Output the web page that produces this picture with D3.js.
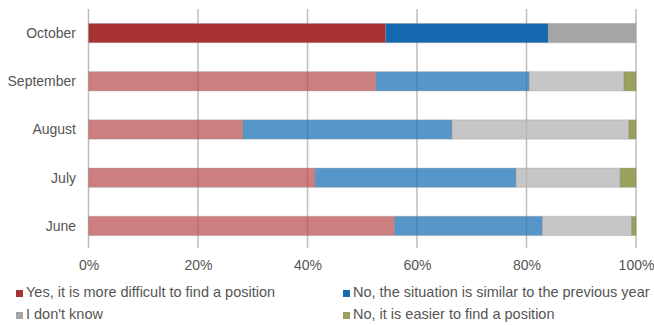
<!DOCTYPE html>
<html>
<head>
<meta charset="utf-8">
<script src="https://cdn.jsdelivr.net/npm/d3@7"></script>
<style>
  html, body { margin: 0; padding: 0; background: #fff; }
  svg { display: block; font-family: "Liberation Sans", Arial, sans-serif; }
</style>
</head>
<body>
<svg id="chart" width="654" height="325"></svg>
<script>
// Survey months, top to bottom
const months = ["October", "September", "August", "July", "June"];

// Answer shares (%) per month, same order as months
const moreDifficult = [54.3, 52.5, 28.2, 41.4, 55.9];
const similar       = [29.7, 28.0, 38.2, 36.7, 27.0];
const dontKnow      = [16.0, 17.3, 32.3, 19.0, 16.3];
const easier        = [0.0, 2.2, 1.3, 2.9, 0.8];

const seriesNames = [
  "Yes, it is more difficult to find a position",
  "No, the situation is similar to the previous year",
  "I don't know",
  "No, it is easier to find a position"
];

const tickValues = [0, 20, 40, 60, 80, 100];

// Latest month is drawn in full colour, earlier months are faded
const strongColors = ["#a93232", "#1469b0", "#a6a6a6", "#9ba05b"];
const fadedColors  = ["rgba(188,84,84,0.75)", "rgba(31,115,182,0.75)",
                      "rgba(179,179,179,0.75)", "rgba(122,128,36,0.75)"];

const seriesValues = [moreDifficult, similar, dontKnow, easier];
const rows = months.map((m, i) => {
  const r = { month: m };
  seriesNames.forEach((s, k) => r[s] = seriesValues[k][i]);
  return r;
});
const stacked = d3.stack().keys(seriesNames)(rows);

const svg = d3.select("#chart");
const x = d3.scaleLinear().domain([0, 100]).range([88.5, 636]);
const y = d3.scaleBand().domain(months).range([9, 250])
  .paddingInner(0.6).paddingOuter(0.3);

// Vertical gridlines
svg.append("g").selectAll("line").data(tickValues).join("line")
  .attr("x1", d => x(d)).attr("x2", d => x(d))
  .attr("y1", 9).attr("y2", 248)
  .attr("stroke", "#bdbdbd").attr("stroke-width", 1.5);

// Stacked bars
svg.append("g").selectAll("g").data(stacked).join("g")
  .each(function (layer, k) {
    d3.select(this).selectAll("rect").data(layer).join("rect")
      .attr("x", d => x(d[0]))
      .attr("width", d => Math.max(0, x(d[1]) - x(d[0])))
      .attr("y", d => y(d.data.month))
      .attr("height", y.bandwidth())
      .attr("fill", d => d.data.month === months[0] ? strongColors[k] : fadedColors[k])
      .attr("stroke", d => (d[1] - d[0]) > 0 ? "rgba(150,150,150,0.35)" : "none")
      .attr("stroke-width", 1);
  });

// Month labels
svg.append("g").selectAll("text").data(months).join("text")
  .attr("x", 76)
  .attr("y", d => y(d) + y.bandwidth() / 2)
  .attr("dy", "0.35em")
  .attr("text-anchor", "end")
  .attr("font-size", 14)
  .attr("fill", "#555")
  .text(d => d);

// Percentage axis
const axis = d3.axisBottom(x).tickValues(tickValues)
  .tickFormat(d => d + "%").tickSize(0).tickPadding(0);
const ax = svg.append("g").attr("transform", "translate(0,260)").call(axis);
ax.select(".domain").remove();
ax.selectAll("text").attr("font-size", 14).attr("fill", "#555")
  .attr("font-family", "Liberation Sans, Arial, sans-serif");

// Legend
const legendPos = [[16, 297], [343, 297], [16, 319], [343, 319]];
const legend = svg.append("g").selectAll("g").data(seriesNames).join("g")
  .attr("transform", (d, i) => `translate(${legendPos[i][0]},${legendPos[i][1]})`);
legend.append("rect")
  .attr("x", 0).attr("y", -7).attr("width", 7).attr("height", 7)
  .attr("fill", (d, i) => strongColors[i]);
legend.append("text")
  .attr("x", 10).attr("y", 0)
  .attr("font-size", 14.5).attr("fill", "#555")
  .text(d => d);
</script>
</body>
</html>
